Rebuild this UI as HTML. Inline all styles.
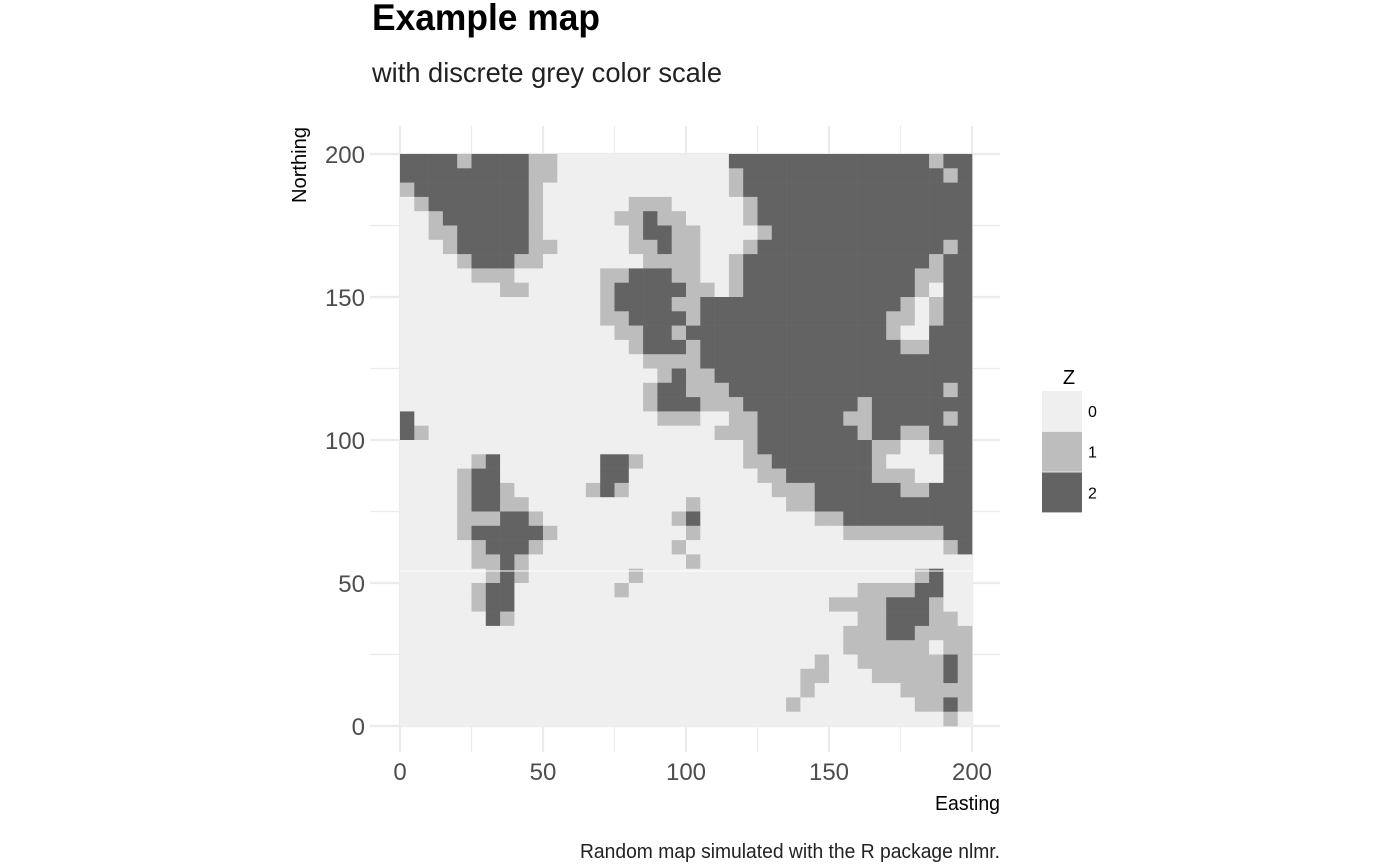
<!DOCTYPE html>
<html><head><meta charset="utf-8"><style>
html,body{margin:0;padding:0;background:#fff;width:1400px;height:865px;overflow:hidden}
svg text{font-family:"Liberation Sans Narrow","Liberation Sans",sans-serif}
</style></head><body>
<svg id="chart" width="1400" height="865" xmlns="http://www.w3.org/2000/svg">
<text x="372" y="30" font-size="37" font-weight="bold" fill="#000" textLength="228" lengthAdjust="spacingAndGlyphs">Example map</text>
<text x="372" y="82" font-size="28" fill="#222" textLength="350" lengthAdjust="spacingAndGlyphs">with discrete grey color scale</text>
<g id="grid"></g>
<g id="cells"></g>
<line x1="400" x2="972" y1="571" y2="571" stroke="#fff" stroke-width="1"/>
<g id="ticks"></g>
<text transform="translate(306,165) rotate(-90)" text-anchor="middle" font-size="20" fill="#000" textLength="76" lengthAdjust="spacingAndGlyphs">Northing</text>
<text x="1000" y="810" text-anchor="end" font-size="20" fill="#000" textLength="65" lengthAdjust="spacingAndGlyphs">Easting</text>
<text x="1000" y="858" text-anchor="end" font-size="20" fill="#222" textLength="420" lengthAdjust="spacingAndGlyphs">Random map simulated with the R package nlmr.</text>
<g id="legend">
<text x="1069" y="384" text-anchor="middle" font-size="20" fill="#000">Z</text>
</g>
</svg>
<script>
const classes=["0","1","2"];
const classColors=["#efefef","#bdbdbd","#636363"];
const xTicks=[0,50,100,150,200];
const yTicks=[0,50,100,150,200];
const gridRows=[
"2222122221100000000000022222222222222122",
"2222222221100000000000012222222222222212",
"1222222221000000000000012222222222222222",
"0122222221000000111000001222222222222222",
"0012222221000001121100001222222222222222",
"0011222221000000122110000122222222222222",
"0001222221100000112110001222222222222212",
"0000122211000000011110012222222222222122",
"0000011100000011222110012222222222221122",
"0000000110000012222211012222222222221022",
"0000000000000012222112222222222222210122",
"0000000000000011222212222222222222110122",
"0000000000000001122122222222222222100222",
"0000000000000000122212222222222222211222",
"0000000000000000011112222222222222222222",
"0000000000000000001211222222222222222222",
"0000000000000000012211122222222222222212",
"0000000000000000012221112222222212222222",
"2000000000000000001110011222222112222212",
"2100000000000000000000111222222212211222",
"0000000000000000000000001222222221100122",
"0000012000000022100000001122222221000022",
"0000122000000022000000000112222221110022",
"0000122100000121000000000011122222211222",
"0000122110000000000010000001122222222222",
"0000111221000000000120000000011222222222",
"0000122222100000000010000000000111111122",
"0000012221000000000100000000000000000012",
"0000011210000000000010000000000000000000",
"0000001210000000100000000000000000001200",
"0000012200000001000000000000000011112200",
"0000012200000000000000000000001111222100",
"0000002100000000000000000000000011222110",
"0000000000000000000000000000000111221111",
"0000000000000000000000000000000111111011",
"0000000000000000000000000000010011111121",
"0000000000000000000000000000110001111121",
"0000000000000000000000000000100000011111",
"0000000000000000000000000001000000001121",
"0000000000000000000000000000000000000010"];
const NS="http://www.w3.org/2000/svg";
const X0=400,X1=972,Y0=726,Y1=154;
function sx(v){return X0+(X1-X0)*v/200}
function sy(v){return Y0+(Y1-Y0)*v/200}
function mk(tag,attrs,parent){const e=document.createElementNS(NS,tag);for(const k in attrs)e.setAttribute(k,attrs[k]);parent.appendChild(e);return e}
const grid=document.getElementById('grid');
for(let v=0;v<=200;v+=25){
  const major=v%50===0;
  const lx=mk('line',{x1:sx(v),x2:sx(v),y1:126,y2:752,stroke:'#ebebeb','stroke-width':major?2.2:1.2},grid);
  
  
  const ly=mk('line',{x1:370,x2:1000,y1:sy(v),y2:sy(v),stroke:'#ebebeb','stroke-width':major?2.2:1.2},grid);
  
  
}
const cells=document.getElementById('cells');
const n=gridRows.length,step=200/n;
gridRows.forEach((row,j)=>{
  for(let i=0;i<row.length;i++){
    const c=+row[i];
    const x=sx(i*step),y=sy(200-j*step);
    const r=mk('rect',{x:x,y:y,width:sx((i+1)*step)-x+0.3,height:sy(200-(j+1)*step)-y+0.3,fill:classColors[c]},cells);
    
    
  }
});
const ticks=document.getElementById('ticks');
xTicks.forEach(v=>{
  const t=mk('text',{x:sx(v),y:780,'text-anchor':'middle','font-size':24,fill:'#4d4d4d'},ticks);
  t.textContent=v;
  
  
});
yTicks.forEach(v=>{
  const t=mk('text',{x:365,y:sy(v)+9,'text-anchor':'end','font-size':24,fill:'#4d4d4d'},ticks);
  t.textContent=v;
  
  
});
const legend=document.getElementById('legend');
classes.forEach((c,k)=>{
  const r=mk('rect',{x:1042,y:391+k*40.7,width:40,height:40,fill:classColors[k]},legend);
  
  
  const t=mk('text',{x:1088,y:417+k*40.7,'font-size':16,fill:'#000'},legend);
  t.textContent=c;
  
  
});
</script>
</body></html>
